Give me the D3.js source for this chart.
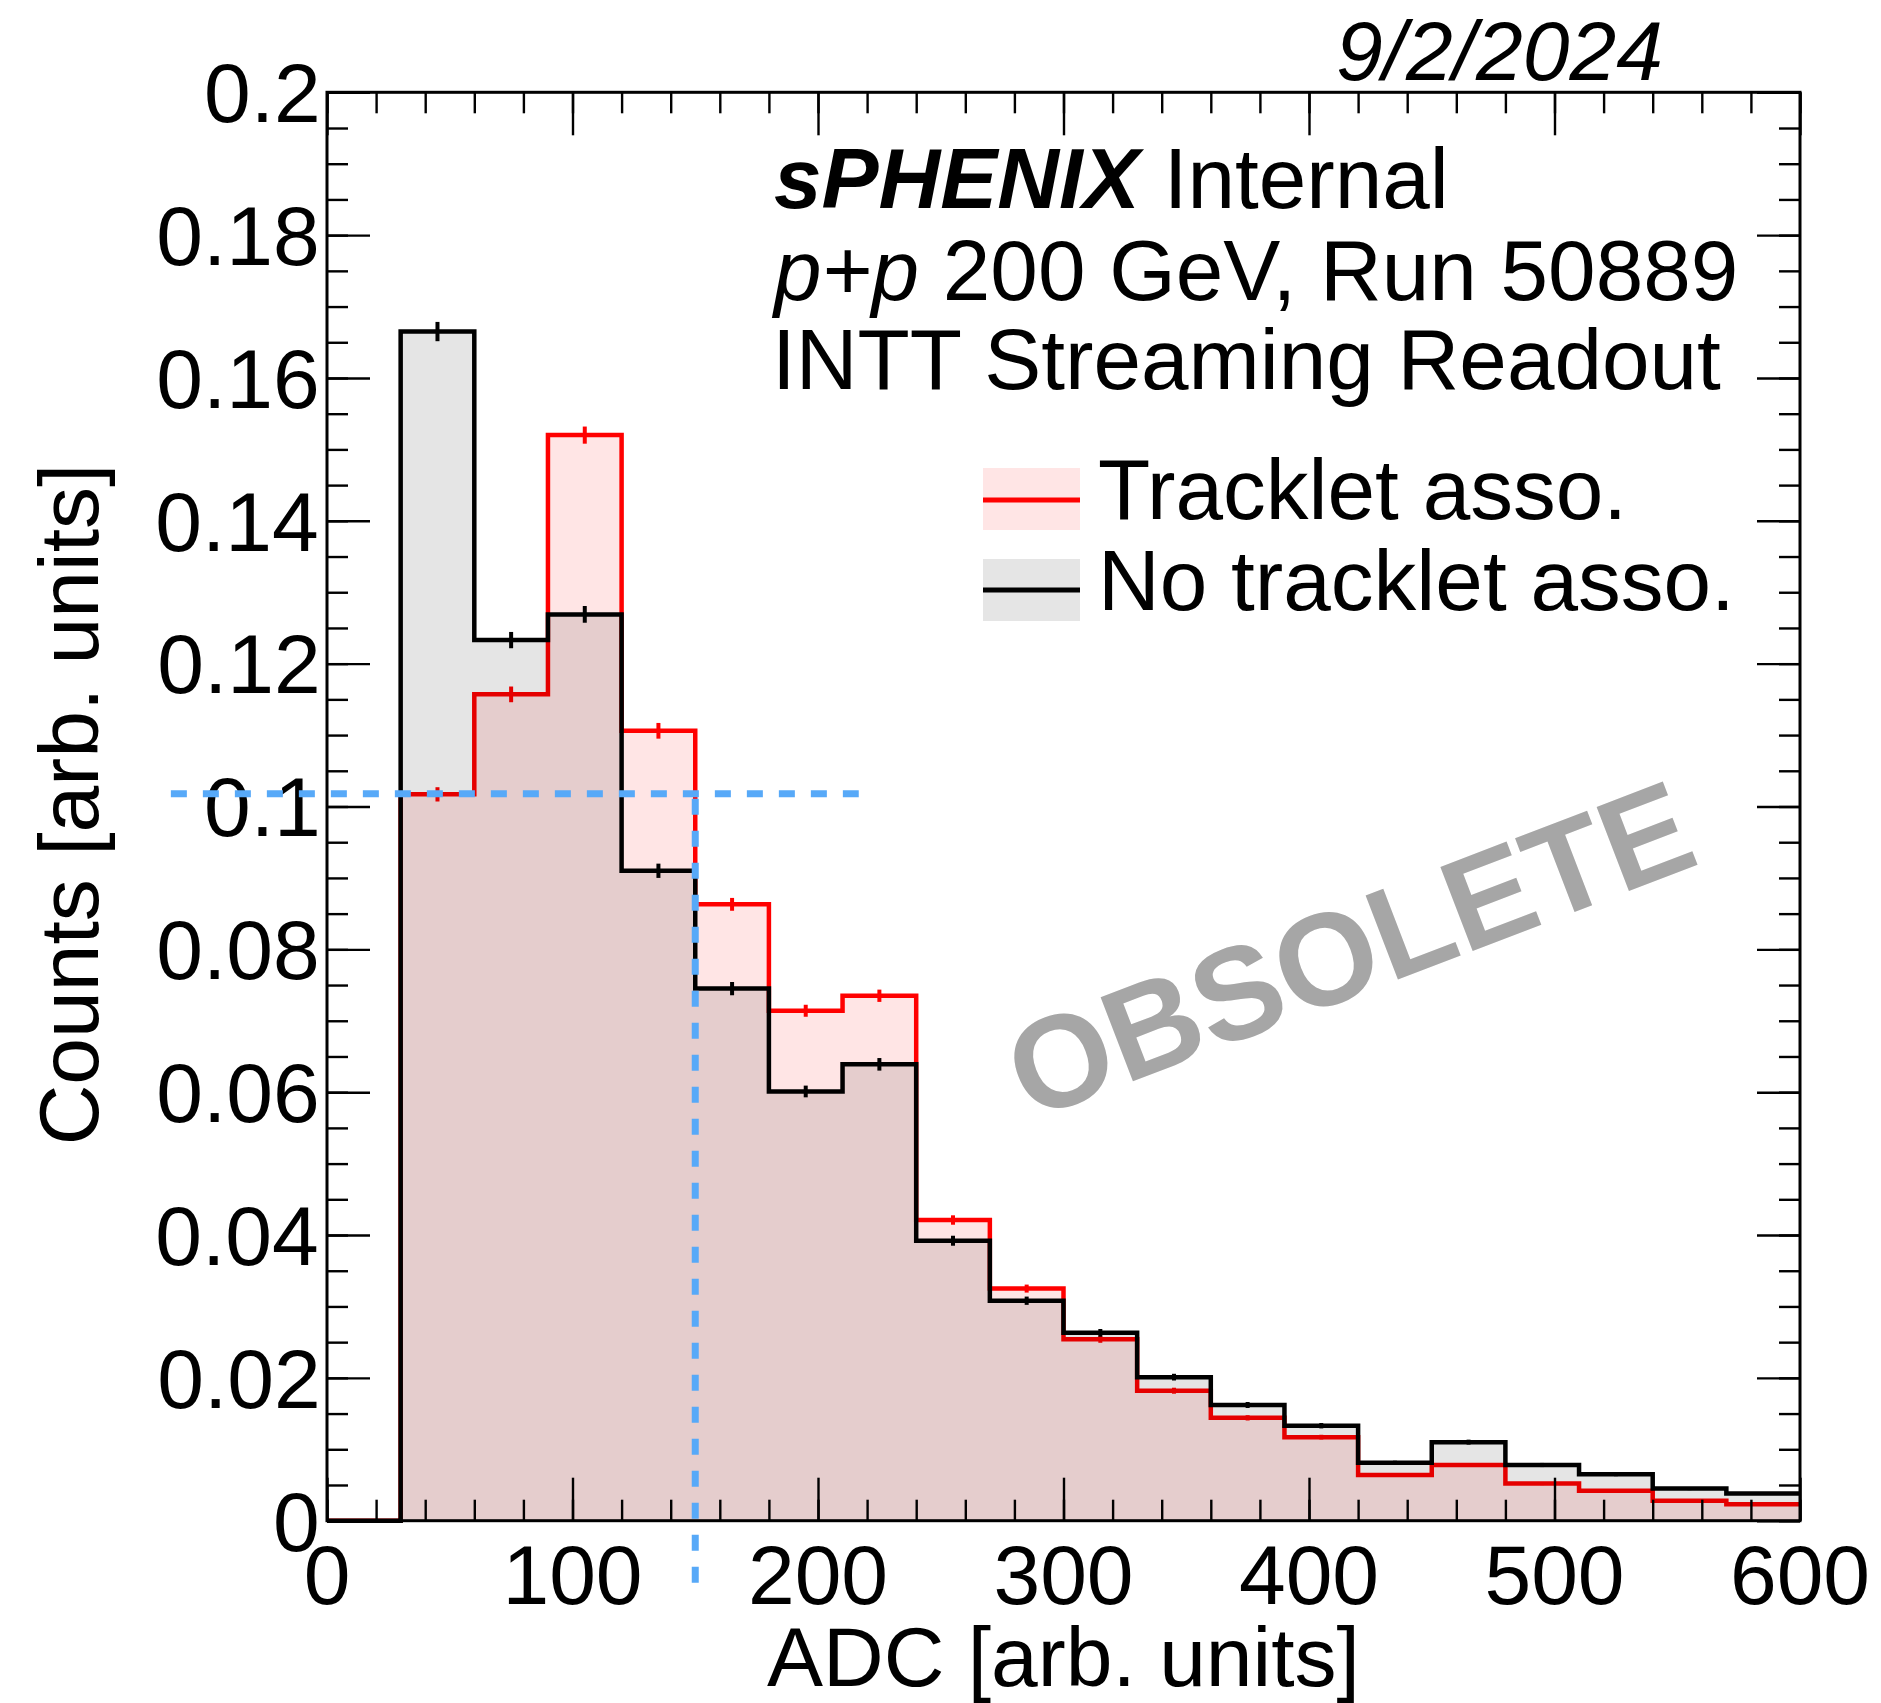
<!DOCTYPE html>
<html><head><meta charset="utf-8">
<script src="https://cdn.jsdelivr.net/npm/d3@7"></script>
<style>
html,body{margin:0;padding:0;background:#fff;}
svg{display:block;}
text{font-family:"Liberation Sans",Arial,Helvetica,sans-serif;}
</style>
</head><body>
<svg id="c" width="1881" height="1703"></svg>
<script>
// ---------- data ----------
const binEdges = [0,30,60,90,120,150,180,210,240,270,300,330,360,390,420,450,480,510,540,570,600];
const tracklet      = [0,0.1017,0.1157,0.1520,0.1106,0.0863,0.0714,0.0735,0.0421,0.0325,0.0254,0.0182,0.0144,0.0117,0.0064,0.0078,0.0052,0.0042,0.0028,0.0023];
const trackletErr   = [0,0.0010,0.0011,0.0012,0.0011,0.0009,0.00084,0.00086,0.00066,0.00056,0.00049,0.00042,0.00037,0.00033,0.00025,0.00027,0.00022,0.0002,0.00016,0.00015];
const noTracklet    = [0,0.1665,0.1233,0.1269,0.0910,0.0745,0.0601,0.0639,0.0392,0.0308,0.0263,0.0201,0.0162,0.0133,0.0081,0.0110,0.0078,0.0065,0.0045,0.0038];
const noTrackletErr = [0,0.00135,0.00114,0.00117,0.0010,0.00093,0.00082,0.00088,0.0007,0.00058,0.00054,0.00047,0.00042,0.00038,0.0003,0.00035,0.00029,0.00027,0.00022,0.0002];
const xMajorTicks = [0,100,200,300,400,500,600];
const xTickLabels = ["0","100","200","300","400","500","600"];
const yMajorTicks = [0,0.02,0.04,0.06,0.08,0.1,0.12,0.14,0.16,0.18,0.2];
const yTickLabels = ["0","0.02","0.04","0.06","0.08","0.1","0.12","0.14","0.16","0.18","0.2"];
const cutADC = 150;
const cutLevel = 0.1018;
const cutHLineX = [-63.6, 216.6];
const cutVLineY = [-0.0087, 0.1018];
const legendLabels = ["Tracklet asso.", "No tracklet asso."];

// ---------- layout ----------
const W = 1881, H = 1703;
const L = 327, R = 1800, T = 92.3, B = 1520.7;
const FS = 84, FS2 = 85.5;
const font = "'Liberation Sans', Arial, Helvetica, sans-serif";

const svg = d3.select("#c");
svg.append("rect").attr("width",W).attr("height",H).attr("fill","#fff");

const x = d3.scaleLinear().domain([0,600]).range([L,R]);
const y = d3.scaleLinear().domain([0,0.2]).range([B,T]);

function stepPts(vals){
  const p = vals.map((v,i)=>[binEdges[i],v]);
  p.push([binEdges[binEdges.length-1], vals[vals.length-1]]);
  return p;
}
const line = d3.line().x(d=>x(d[0])).y(d=>y(d[1])).curve(d3.curveStepAfter);
const area = d3.area().x(d=>x(d[0])).y0(y(0)).y1(d=>y(d[1])).curve(d3.curveStepAfter);

function drawHist(vals, errs, color, fill){
  const g = svg.append("g");
  g.append("path").attr("d", area(stepPts(vals))).attr("fill", fill).attr("stroke","none");
  g.append("path").attr("d", line(stepPts(vals))).attr("fill","none").attr("stroke",color).attr("stroke-width",4.5);
  g.selectAll("line.err").data(vals.map((v,i)=>({v, e:errs[i], c:(binEdges[i]+binEdges[i+1])/2})).filter(d=>d.v>0))
    .enter().append("line")
    .attr("x1",d=>x(d.c)).attr("x2",d=>x(d.c))
    .attr("y1",d=>y(d.v-d.e)).attr("y2",d=>y(d.v+d.e))
    .attr("stroke",color).attr("stroke-width",4);
}
drawHist(tracklet, trackletErr, "#ff0000", "rgba(255,0,0,0.1)");
drawHist(noTracklet, noTrackletErr, "#000000", "rgba(0,0,0,0.1)");

// ---------- axes (ticks inside, mirrored) ----------
const xMinor = d3.range(0, 601, 20);
const yMinor = d3.range(0, 41).map(i=>+(i*0.005).toFixed(3));
function addAxis(axis, tr){
  const g = svg.append("g").attr("transform", tr).call(axis);
  g.select(".domain").remove();
  g.selectAll("text").remove();
  g.selectAll("line").attr("stroke","#000").attr("stroke-width",2.4);
}
addAxis(d3.axisBottom(x).tickValues(xMinor).tickSize(-21), `translate(0,${B})`);
addAxis(d3.axisBottom(x).tickValues(xMajorTicks).tickSize(-43), `translate(0,${B})`);
addAxis(d3.axisTop(x).tickValues(xMinor).tickSize(-21), `translate(0,${T})`);
addAxis(d3.axisTop(x).tickValues(xMajorTicks).tickSize(-43), `translate(0,${T})`);
addAxis(d3.axisLeft(y).tickValues(yMinor).tickSize(-21), `translate(${L},0)`);
addAxis(d3.axisLeft(y).tickValues(yMajorTicks).tickSize(-43), `translate(${L},0)`);
addAxis(d3.axisRight(y).tickValues(yMinor).tickSize(-21), `translate(${R},0)`);
addAxis(d3.axisRight(y).tickValues(yMajorTicks).tickSize(-43), `translate(${R},0)`);

svg.append("rect").attr("x",L).attr("y",T).attr("width",R-L).attr("height",B-T)
  .attr("fill","none").attr("stroke","#000").attr("stroke-width",3);

// ---------- tick labels ----------
const ctx = document.createElement("canvas").getContext("2d");
ctx.font = `${FS}px ${font}`;
yMajorTicks.forEach((v,i)=>{
  const m = ctx.measureText(yTickLabels[i]);
  svg.append("text").attr("x", 317 - m.actualBoundingBoxRight).attr("y", y(v))
    .attr("dy","0.355em").attr("font-size",FS).attr("fill","#000").text(yTickLabels[i]);
});
xMajorTicks.forEach((v,i)=>{
  svg.append("text").attr("x", x(v)).attr("y", 1604).attr("text-anchor","middle")
    .attr("font-size",FS).attr("fill","#000").text(xTickLabels[i]);
});

// ---------- axis titles ----------
svg.append("text").attr("x",(L+R)/2).attr("y",1686).attr("text-anchor","middle")
  .attr("font-size",FS).text("ADC [arb. units]");
svg.append("text").attr("transform",`translate(98,${(T+B)/2 - 2}) rotate(-90)`).attr("text-anchor","middle")
  .attr("font-size",FS).text("Counts [arb. units]");

// ---------- annotations ----------
svg.append("text").attr("x",1336).attr("y",80).attr("font-size",FS).attr("font-style","italic").text("9/2/2024");
const t1 = svg.append("text").attr("x",774).attr("y",208).attr("font-size",FS2);
t1.append("tspan").attr("font-weight","bold").attr("font-style","italic").text("sPHENIX");
t1.append("tspan").text(" Internal");
const t2 = svg.append("text").attr("x",774).attr("y",300).attr("font-size",FS2);
t2.append("tspan").attr("font-style","italic").text("p+p");
t2.append("tspan").text(" 200 GeV, Run 50889");
svg.append("text").attr("x",772).attr("y",389).attr("font-size",FS2).text("INTT Streaming Readout");

// ---------- legend ----------
const legend = [
  {label: legendLabels[0], color:"#ff0000", fill:"rgba(255,0,0,0.1)", y0:468, y1:530, ly:500, ty:519},
  {label: legendLabels[1], color:"#000000", fill:"rgba(0,0,0,0.1)", y0:559, y1:621, ly:590, ty:610}
];
legend.forEach(d=>{
  svg.append("rect").attr("x",983).attr("y",d.y0).attr("width",97).attr("height",d.y1-d.y0).attr("fill",d.fill);
  svg.append("line").attr("x1",983).attr("x2",1080).attr("y1",d.ly).attr("y2",d.ly).attr("stroke",d.color).attr("stroke-width",5);
  svg.append("text").attr("x",1098).attr("y",d.ty).attr("font-size",FS2).text(d.label);
});

// ---------- cut lines ----------
const blue = "#57a9f8";
svg.append("line").attr("x1",x(cutHLineX[0])).attr("x2",x(cutHLineX[1]))
  .attr("y1",y(cutLevel)).attr("y2",y(cutLevel))
  .attr("stroke",blue).attr("stroke-width",7).attr("stroke-dasharray","16,16");
svg.append("line").attr("x1",x(cutADC)).attr("x2",x(cutADC))
  .attr("y1",y(cutVLineY[0])).attr("y2",y(cutVLineY[1]))
  .attr("stroke",blue).attr("stroke-width",7).attr("stroke-dasharray","16,16");

// ---------- watermark ----------
svg.append("text").attr("transform","translate(1366,992) rotate(-21)").attr("text-anchor","middle")
  .attr("font-size",131).attr("font-weight","bold").attr("fill","#a6a6a6").text("OBSOLETE");
</script>
</body></html>
